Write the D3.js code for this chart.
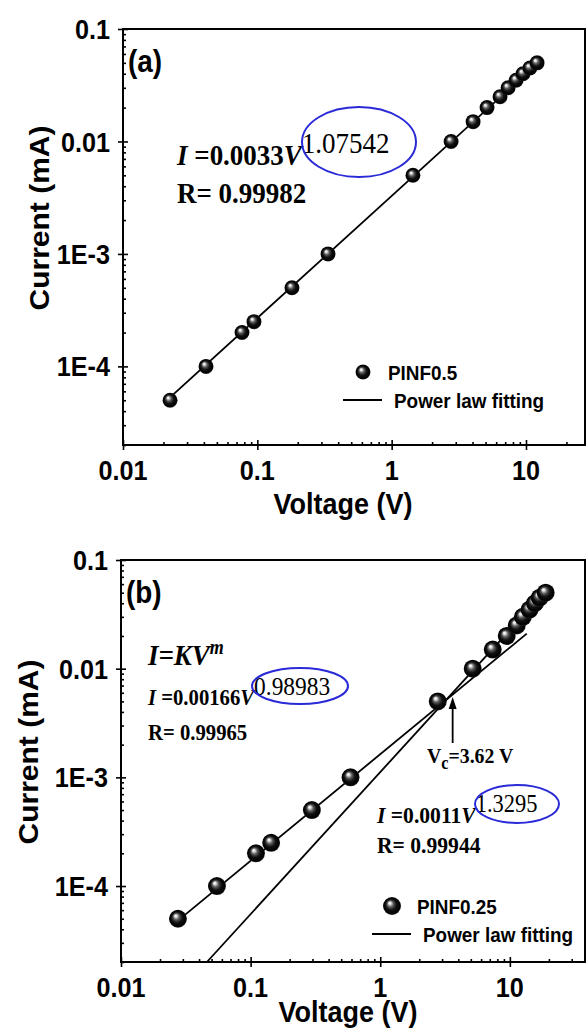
<!DOCTYPE html>
<html>
<head>
<meta charset="utf-8">
<script src="https://cdn.jsdelivr.net/npm/d3@7"></script>
<style>
  body { margin: 0; background: #fff; }
  svg { display: block; }
</style>
</head>
<body>
<div id="chart"></div>
<script>
// ===========================
// I-V curves on log-log axes, two panels (a) PINF0.5 and (b) PINF0.25
// Spheres = measured points, black lines = power law fits
// ===========================

// ── Data ────────────────────────────────────────────────────────────────────
const xTickValues = [0.01, 0.1, 1, 10];
const xTickLabels = ['0.01', '0.1', '1', '10'];
const yTickValues = [0.1, 0.01, 1e-3, 1e-4];
const yTickLabels = ['0.1', '0.01', '1E-3', '1E-4'];

// panel (a)
const voltageA = [0.0224, 0.0415, 0.0769, 0.0944, 0.181, 0.336, 1.44, 2.77, 4.04, 5.13, 6.41, 7.36, 8.44, 9.5, 10.7, 12.1];
const currentA = [5e-5, 1e-4, 2e-4, 2.5e-4, 5e-4, 1e-3, 5e-3, 0.01, 0.015, 0.02, 0.025, 0.03, 0.035, 0.04, 0.045, 0.05];
const fitAVoltage = [0.0224, 12.3];
const fitACurrent = [5.3e-5, 0.05];

// panel (b)
const voltageB = [0.0275, 0.055, 0.11, 0.144, 0.297, 0.59, 2.78, 5.17, 7.38, 9.46, 11.3, 12.6, 14.2, 15.6, 17.0, 18.9];
const currentB = [5e-5, 1e-4, 2e-4, 2.5e-4, 5e-4, 1e-3, 5e-3, 0.01, 0.015, 0.02, 0.025, 0.03, 0.035, 0.04, 0.045, 0.05];
const fitB1Voltage = [0.0275, 13.5];
const fitB1Current = [4.8e-5, 0.021];
const fitB2Voltage = [0.046, 18.9];
const fitB2Current = [2e-5, 0.052];
const vcValue = 3.62;

// fit texts
const fitA = { coef: '0.0033', exp: '1.07542', r: '0.99982' };
const fitB1 = { coef: '0.00166', exp: '0.98983', r: '0.99965' };
const fitB2 = { coef: '0.0011', exp: '1.3295', r: '0.99944' };

// ── Setup ───────────────────────────────────────────────────────────────────
const W = 587, H = 1029;
const SANS = "'Liberation Sans', Arial, sans-serif";
const SERIF = "'Liberation Serif', 'Times New Roman', serif";
const SX = 0.9; // text in the source is slightly squeezed horizontally
const BLUE = '#2a2ad8';

const svg = d3.select('#chart').append('svg')
    .attr('width', W).attr('height', H);

const defs = svg.append('defs');
const grad = defs.append('radialGradient').attr('id', 'ball')
    .attr('cx', '50%').attr('cy', '50%').attr('r', '50%')
    .attr('fx', '36%').attr('fy', '32%');
[[0, '#ffffff'], [0.12, '#e8e8e8'], [0.35, '#5a5a5a'], [0.6, '#111'], [0.9, '#000'], [1, '#2a2a2a']]
    .forEach(([o, c]) => grad.append('stop').attr('offset', o).attr('stop-color', c));

// text placed in a group so it can be squeezed without moving
function txt(parent, x, y, opts = {}) {
    const g = parent.append('g')
        .attr('transform', 'translate(' + x + ',' + y + ') ' +
            (opts.rotate ? 'rotate(-90) scale(1,' + SX + ')' : 'scale(' + SX + ',1)'));
    return g.append('text')
        .attr('text-anchor', opts.anchor || 'start')
        .attr('dy', opts.dy || 0)
        .style('font-family', opts.family || SANS)
        .style('font-size', (opts.size || 28) + 'px')
        .style('font-weight', opts.weight || 'bold')
        .style('fill', '#000');
}

function isMajor(v) {
    const l = Math.log10(v);
    return Math.abs(l - Math.round(l)) < 1e-9;
}

function drawPanel(p) {
    const x = d3.scaleLog().domain(p.xDomain).range([p.left, p.right]);
    const y = d3.scaleLog().domain([2e-5, 0.1]).range([p.bottom, p.top]);
    const g = svg.append('g');

    // frame
    g.append('rect')
        .attr('x', p.left).attr('y', p.top)
        .attr('width', p.right - p.left).attr('height', p.bottom - p.top)
        .attr('fill', 'none').attr('stroke', '#000').attr('stroke-width', 2);

    // ticks
    const xMinor = x.ticks().filter(v => !isMajor(v));
    const yMinor = y.ticks().filter(v => !isMajor(v));
    const tickAxes = [
        [d3.axisBottom(x).tickValues(xTickValues).tickSizeInner(5), 'translate(0,' + p.bottom + ')'],
        [d3.axisBottom(x).tickValues(xTickValues).tickSizeInner(-5), 'translate(0,' + p.bottom + ')'],
        [d3.axisBottom(x).tickValues(xMinor).tickSizeInner(-3), 'translate(0,' + p.bottom + ')'],
        [d3.axisLeft(y).tickValues(yTickValues).tickSizeInner(5), 'translate(' + p.left + ',0)'],
        [d3.axisLeft(y).tickValues(yTickValues).tickSizeInner(-5), 'translate(' + p.left + ',0)'],
        [d3.axisLeft(y).tickValues(yMinor).tickSizeInner(-3), 'translate(' + p.left + ',0)']
    ];
    tickAxes.forEach(([ax, tr]) => {
        const a = g.append('g').attr('transform', tr)
            .call(ax.tickSizeOuter(0).tickFormat(''));
        a.select('.domain').remove();
        a.selectAll('line').attr('stroke-width', 1.6);
    });

    // tick labels
    xTickValues.forEach((v, i) => {
        txt(g, x(v), p.bottom + 35, { anchor: 'middle', size: 28 }).text(xTickLabels[i]);
    });
    yTickValues.forEach((v, i) => {
        txt(g, p.left - 13, y(v), { anchor: 'end', size: 28, dy: '0.36em' }).text(yTickLabels[i]);
    });

    // axis titles
    txt(g, p.xTitleX, p.xTitleY, { anchor: 'middle', size: 30 }).text('Voltage (V)');
    txt(g, p.yTitleX, p.yTitleY, { anchor: 'middle', size: 30, rotate: true }).text('Current (mA)');

    // panel letter
    txt(g, p.left + 5, p.top + 43, { size: 31 }).text(p.letter);

    // fit lines
    const line = d3.line().x(d => x(d[0])).y(d => y(d[1]));
    p.fits.forEach(f => {
        g.append('path')
            .datum(f.v.map((v, i) => [v, f.i[i]]))
            .attr('d', line)
            .attr('fill', 'none').attr('stroke', '#000').attr('stroke-width', 1.8);
    });

    // points
    g.selectAll('.pt')
        .data(p.voltage.map((v, i) => [v, p.current[i]]))
        .join('circle')
        .attr('class', 'pt')
        .attr('cx', d => x(d[0])).attr('cy', d => y(d[1]))
        .attr('r', p.r)
        .attr('fill', 'url(#ball)');

    // legend
    g.append('circle').attr('cx', p.legX).attr('cy', p.legY).attr('r', p.r).attr('fill', 'url(#ball)');
    txt(g, p.legX + 25, p.legY, { size: 21, dy: '0.36em' }).text(p.legName);
    g.append('line')
        .attr('x1', p.legX - 20).attr('x2', p.legX + 19)
        .attr('y1', p.legY + 28).attr('y2', p.legY + 28)
        .attr('stroke', '#000').attr('stroke-width', 1.8);
    txt(g, p.legX + 31, p.legY + 28, { size: 21, dy: '0.36em' }).text('Power law fitting');

    return { g, x, y };
}

function equation(parent, x, y, size, fit, expSize, expDy, rDy) {
    const t = txt(parent, x, y, { family: SERIF, size: size });
    t.append('tspan').style('font-style', 'italic').text('I');
    t.append('tspan').text(' =' + fit.coef);
    t.append('tspan').style('font-style', 'italic').text('V');
    t.append('tspan').attr('dy', expDy).style('font-weight', 'normal')
        .style('font-size', expSize + 'px').text(fit.exp);
    txt(parent, x, y + rDy, { family: SERIF, size: size }).text('R=  ' + fit.r);
}

// ── Panel (a) ───────────────────────────────────────────────────────────────
const pa = drawPanel({
    left: 123, right: 585, top: 29, bottom: 445,
    xDomain: [0.01, 27.5],
    letter: '(a)', xTitleX: 343, xTitleY: 514, yTitleX: 49, yTitleY: 218,
    voltage: voltageA, current: currentA,
    fits: [{ v: fitAVoltage, i: fitACurrent }],
    r: 7.5, legX: 363, legY: 372, legName: 'PINF0.5'
});
equation(pa.g, 177, 165, 30, fitA, 30, -12, 38);
pa.g.append('ellipse')
    .attr('cx', 359).attr('cy', 142).attr('rx', 57).attr('ry', 35)
    .attr('fill', 'none').attr('stroke', BLUE).attr('stroke-width', 2);

// ── Panel (b) ───────────────────────────────────────────────────────────────
const pb = drawPanel({
    left: 121, right: 585, top: 560, bottom: 962,
    xDomain: [0.01, 38],
    letter: '(b)', xTitleX: 348, xTitleY: 1022, yTitleX: 38, yTitleY: 752,
    voltage: voltageB, current: currentB,
    fits: [{ v: fitB1Voltage, i: fitB1Current }, { v: fitB2Voltage, i: fitB2Current }],
    r: 9, legX: 392, legY: 906, legName: 'PINF0.25'
});

// I=KV^m
const km = txt(pb.g, 148, 665, { family: SERIF, size: 30 });
km.append('tspan').style('font-style', 'italic').text('I=KV');
km.append('tspan').attr('dy', -11).style('font-style', 'italic').style('font-size', '20px').text('m');

equation(pb.g, 148, 705, 23, fitB1, 26, -10, 35);
pb.g.append('ellipse')
    .attr('cx', 300).attr('cy', 686).attr('rx', 48).attr('ry', 18)
    .attr('fill', 'none').attr('stroke', BLUE).attr('stroke-width', 2);

equation(pb.g, 377, 823, 24, fitB2, 25, -11, 30);
pb.g.append('ellipse')
    .attr('cx', 517).attr('cy', 804).attr('rx', 42).attr('ry', 19)
    .attr('fill', 'none').attr('stroke', BLUE).attr('stroke-width', 2);

// Vc arrow
const xv = pb.x(vcValue);
pb.g.append('line')
    .attr('x1', xv).attr('x2', xv).attr('y1', 743).attr('y2', 706)
    .attr('stroke', '#000').attr('stroke-width', 1.8);
pb.g.append('polygon')
    .attr('points', (xv - 4) + ',709 ' + (xv + 4) + ',709 ' + xv + ',697')
    .attr('fill', '#000');
const vc = txt(pb.g, 427, 763, { family: SERIF, size: 22 });
vc.append('tspan').text('V');
vc.append('tspan').attr('dy', 6).style('font-size', '18px').text('c');
vc.append('tspan').attr('dy', -6).text('=' + vcValue + ' V');
</script>
</body>
</html>
